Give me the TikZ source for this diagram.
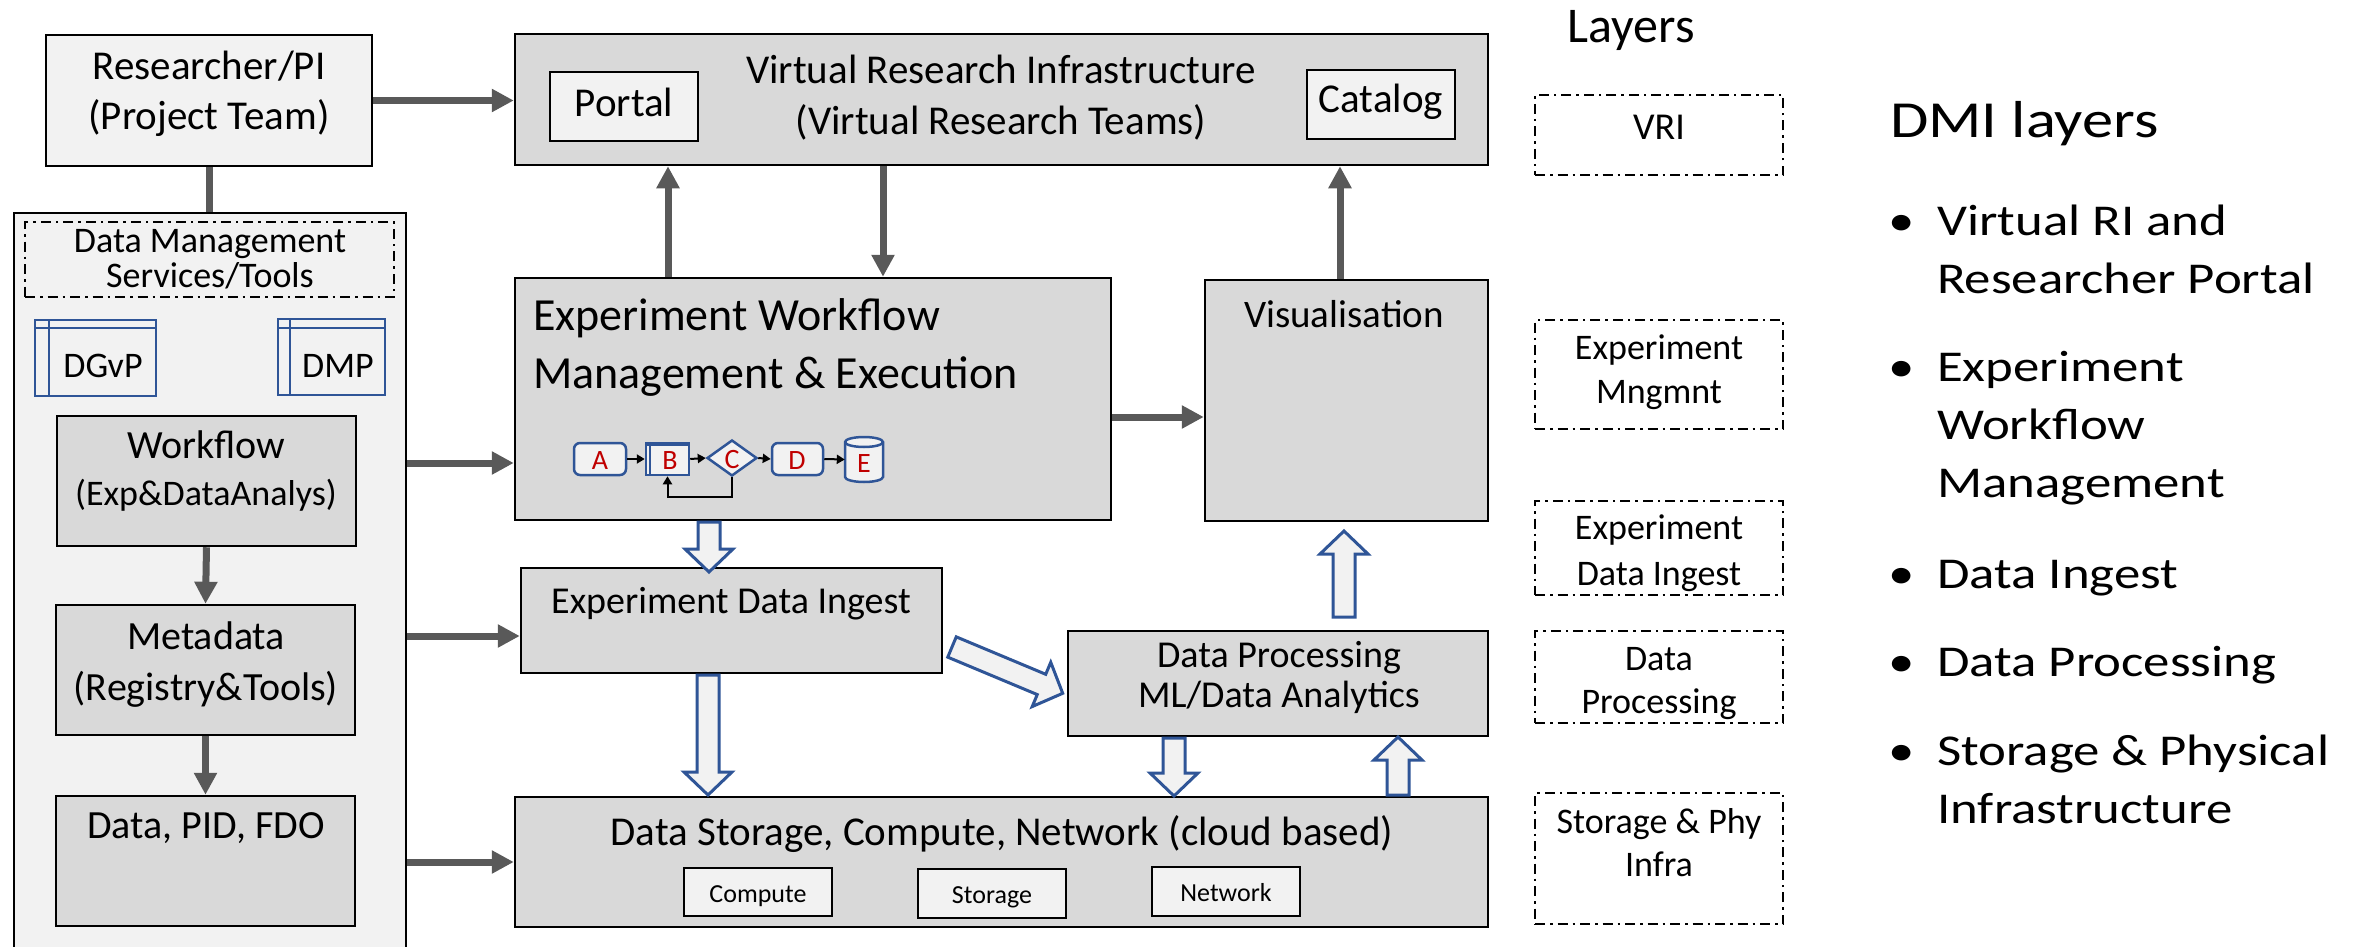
\documentclass[tikz,border=0pt]{standalone}
\usepackage{fontspec}
\setmainfont{Carlito}
\newfontfamily\widefont{Carlito}[FakeStretch=1.2]
\usetikzlibrary{arrows.meta,shapes.geometric,calc}
\definecolor{lightfill}{HTML}{F2F2F2}
\definecolor{midfill}{HTML}{D9D9D9}
\definecolor{darkarrow}{HTML}{595959}
\definecolor{wfblue}{HTML}{2F5597}
\definecolor{wfred}{HTML}{C00000}
\newcommand\fsz[1]{\fontsize{#1}{#1}\selectfont}
\newcommand\blockarr[4]{%
  \begin{scope}[shift={(#1,#2)}, rotate=#3]
    \draw[blockstyle] (0,-11) -- ({#4-23},-11) -- ({#4-23},-24) -- (#4,0) -- ({#4-23},24) -- ({#4-23},11) -- (0,11) -- cycle;
  \end{scope}}
\begin{document}
\begin{tikzpicture}[x=1pt,y=-1pt,
  box/.style={draw=black, line width=2.5pt, inner sep=0pt},
  gbox/.style={box, fill=midfill},
  lbox/.style={box, fill=lightfill},
  smallbox/.style={draw=black, line width=2pt, fill=lightfill, inner sep=0pt},
  layerbox/.style={draw=black, line width=2pt, dash pattern=on 10pt off 5pt on 2.5pt off 5pt, minimum width=248pt, inner sep=0pt},
  txt/.style={anchor=base, inner sep=0pt},
  ltxt/.style={anchor=base west, inner sep=0pt},
  darr/.style={draw=darkarrow, line width=7pt, -{Triangle[width=22pt,length=22pt]}},
  dline/.style={draw=darkarrow, line width=7pt},
  blockstyle/.style={draw=wfblue, fill=lightfill, line width=3pt, line join=miter},
  wfbox/.style={draw=wfblue, line width=2.5pt, fill=lightfill, inner sep=0pt},
  wfarr/.style={draw=black, line width=2pt, -{Triangle[width=9pt,length=8pt]}},
  wflet/.style={anchor=base, inner sep=0pt, text=wfred, font=\fsz{28}},
  iconbox/.style={draw=wfblue, line width=2pt, inner sep=0pt},
]
\useasboundingbox (0,0) rectangle (2359,947);
\fill[white] (0,0) rectangle (2359,947);
\clip (0,0) rectangle (2359,947);

% ---------------- left column ----------------
\node[lbox, minimum width=392pt, minimum height=760pt] (dm) at (210,593) {};
\node[lbox, minimum width=326pt, minimum height=131pt] (res) at (209,100.5) {};
\node[txt, font=\fsz{41}] (resA) at (209,80) {Researcher/PI};
\node[txt, font=\fsz{41}] (resB) at (209,130) {(Project Team)};
\draw[dline] (res.south) -- (dm.north -| res.south);

\node[draw=black, line width=2pt, dash pattern=on 10pt off 5pt on 2.5pt off 5pt, minimum width=369pt, minimum height=75pt, inner sep=0pt] (dmsvc) at (209.5,259.5) {};
\node[txt, font=\fsz{36}] (dmsvcA) at (210,252) {Data Management};
\node[txt, font=\fsz{36}] (dmsvcB) at (210,287) {Services/Tools};

\node[iconbox, minimum width=121pt, minimum height=76pt] (dgvp) at (95.5,358) {};
\draw[wfblue, line width=2pt] ($(dgvp.north west)+(0,9)$) -- ($(dgvp.north east)+(0,9)$);
\draw[wfblue, line width=2pt] ($(dgvp.north west)+(15,0)$) -- ($(dgvp.south west)+(15,0)$);
\node[txt, font=\fsz{36}] (dgvpT) at (103,377) {DGvP};
\node[iconbox, minimum width=107pt, minimum height=76pt] (dmp) at (331.5,357) {};
\draw[wfblue, line width=2pt] ($(dmp.north west)+(0,10)$) -- ($(dmp.north east)+(0,10)$);
\draw[wfblue, line width=2pt] ($(dmp.north west)+(13,0)$) -- ($(dmp.south west)+(13,0)$);
\node[txt, font=\fsz{36}] (dmpT) at (338,377) {DMP};

\node[gbox, minimum width=299pt, minimum height=130pt] (wf) at (206.5,481) {};
\node[txt, font=\fsz{40}] (wfA) at (206,458) {Workflow};
\node[txt, font=\fsz{36}] (wfB) at (206,505) {(Exp\&DataAnalys)};
\node[gbox, minimum width=299pt, minimum height=130pt] (meta) at (205.5,670) {};
\node[txt, font=\fsz{40}] (metaA) at (206,649) {Metadata};
\node[txt, font=\fsz{40}] (metaB) at (206,700) {(Registry\&Tools)};
\node[gbox, minimum width=299pt, minimum height=130pt] (data) at (205.5,861) {};
\node[txt, font=\fsz{40}] (dataA) at (206,838) {Data, PID, FDO};
\draw[darr] (wf.south) -- (meta.north);
\draw[darr] (meta.south) -- (data.north);

% ---------------- middle ----------------
\node[gbox, minimum width=973pt, minimum height=131pt] (vri) at (1001.5,99.5) {};
\node[txt, font=\fsz{41}] (vriA) at (1001,84) {Virtual Research Infrastructure};
\node[txt, font=\fsz{41}] (vriB) at (1001,135) {(Virtual Research Teams)};
\node[lbox, minimum width=148pt, minimum height=69pt] (portal) at (624,106.5) {};
\node[txt, font=\fsz{41}] (portalT) at (624,117) {Portal};
\node[lbox, minimum width=148pt, minimum height=69pt] (catalog) at (1381,104.5) {};
\node[txt, font=\fsz{41}] (catalogT) at (1381,113) {Catalog};

\node[gbox, minimum width=596pt, minimum height=242pt] (ewm) at (813,399) {};
\node[ltxt, font=\fsz{46}] (ewmA) at (533,330) {Experiment Workflow};
\node[ltxt, font=\fsz{46}] (ewmB) at (533,388) {Management \& Execution};

\node[gbox, minimum width=283pt, minimum height=241pt] (vis) at (1346.5,400.5) {};
\node[txt, font=\fsz{39}] (visT) at (1344,327) {Visualisation};

\node[gbox, minimum width=421pt, minimum height=105pt] (ingest) at (731.5,620.5) {};
\node[txt, font=\fsz{38}] (ingestT) at (731,613) {Experiment Data Ingest};

\node[gbox, minimum width=420pt, minimum height=105pt] (dp) at (1278,683.5) {};
\node[txt, font=\fsz{38}] (dpA) at (1279,667) {Data Processing};
\node[txt, font=\fsz{38}] (dpB) at (1279,707) {ML/Data Analytics};

\node[gbox, minimum width=973pt, minimum height=130pt] (stor) at (1001.5,862) {};
\node[txt, font=\fsz{41}] (storT) at (1002,845) {Data Storage, Compute, Network (cloud based)};
\node[smallbox, minimum width=148pt, minimum height=48pt] (comp) at (758,892) {};
\node[txt, font=\fsz{26}] (compT) at (758,902) {Compute};
\node[smallbox, minimum width=148pt, minimum height=49pt] (storbox) at (992,893.5) {};
\node[txt, font=\fsz{26}] (storboxT) at (992,903) {Storage};
\node[smallbox, minimum width=148pt, minimum height=49pt] (netw) at (1226,891.5) {};
\node[txt, font=\fsz{26}] (netwT) at (1226,901) {Network};

% mini workflow
\node[wfbox, rounded corners=6pt, minimum width=52pt, minimum height=32pt] (wa) at (600,459) {};
\node[wflet] (waT) at (600,469) {A};
\node[wfbox, minimum width=43pt, minimum height=32pt] (wb) at (667.5,459) {};
\draw[wfblue, line width=2pt] ($(wb.north west)+(5,0)$) -- ($(wb.south west)+(5,0)$);
\draw[wfblue, line width=2pt] ($(wb.north west)+(0,3)$) -- ($(wb.north east)+(0,3)$);
\node[wflet] (wbT) at (670,469) {B};
\node[wfbox, diamond, minimum width=50pt, minimum height=36pt] (wc) at (732,458) {};
\node[wflet] (wcT) at (732,468) {C};
\node[wfbox, rounded corners=6pt, minimum width=51pt, minimum height=32pt] (wd) at (797.5,459) {};
\node[wflet] (wdT) at (797,469) {D};
\node[inner sep=0pt, minimum width=38pt, minimum height=45pt] (we) at (864,459.5) {};
\draw[wfblue, line width=2.5pt, fill=lightfill]
  (845,442) -- (845,477) arc[start angle=180, end angle=360, x radius=19pt, y radius=5pt]
  -- (883,442) arc[start angle=0, end angle=180, x radius=19pt, y radius=5pt] -- cycle;
\draw[wfblue, line width=2.5pt] (845,442) arc[start angle=180, end angle=360, x radius=19pt, y radius=5pt];
\node[wflet] (weT) at (864,472) {E};
\draw[wfarr] (wa.east) -- (wb.west);
\draw[wfarr] (wb.east) -- (wc.west);
\draw[wfarr] (wc.east) -- (wd.west);
\draw[wfarr] (wd.east) -- (we.west);
\draw[wfarr] (wc.south) -- (wc.south |- 0,497) -- (wb.south |- 0,497) -- (wb.south);

% dark arrows
\draw[darr] (res.east) -- (vri.west |- res.east);
\draw[darr] (ewm.north -| 668,0) -- (vri.south -| 668,0);
\draw[darr] (vri.south -| 883,0) -- (ewm.north -| 883,0);
\draw[darr] (vis.north -| 1340,0) -- (vri.south -| 1340,0);
\draw[darr] (ewm.east |- 0,417) -- (vis.west |- 0,417);
\draw[darr] (dm.east |- 0,463) -- (ewm.west |- 0,463);
\draw[darr] (dm.east |- 0,636) -- (ingest.west |- 0,636);
\draw[darr] (dm.east |- 0,862) -- (stor.west |- 0,862);

% block arrows
\blockarr{709}{522}{-90}{50}
\blockarr{708}{675}{-90}{120}
\blockarr{952}{647}{-22.7}{120}
\blockarr{1344}{617}{90}{86}
\blockarr{1174}{738}{-90}{58}
\blockarr{1398}{795}{90}{58}

% ---------------- layers ----------------
\node[txt, font=\fsz{50}] (layT) at (1631,43) {Layers};
\node[layerbox, minimum height=80pt] (l1) at (1659,135) {};
\node[txt, font=\fsz{38}] (l1T) at (1659,140) {VRI};
\node[layerbox, minimum height=109pt] (l2) at (1659,374.5) {};
\node[txt, font=\fsz{36}] (l2A) at (1659,359) {Experiment};
\node[txt, font=\fsz{36}] (l2B) at (1659,403) {Mngmnt};
\node[layerbox, minimum height=94pt] (l3) at (1659,548) {};
\node[txt, font=\fsz{36}] (l3A) at (1659,539) {Experiment};
\node[txt, font=\fsz{36}] (l3B) at (1659,585) {Data Ingest};
\node[layerbox, minimum height=92pt] (l4) at (1659,677) {};
\node[txt, font=\fsz{36}] (l4A) at (1659,670) {Data};
\node[txt, font=\fsz{36}] (l4B) at (1659,713) {Processing};
\node[layerbox, minimum height=131pt] (l5) at (1659,858.5) {};
\node[txt, font=\fsz{36}] (l5A) at (1659,833) {Storage \& Phy};
\node[txt, font=\fsz{36}] (l5B) at (1659,876) {Infra};

% ---------------- DMI layers list ----------------
\node[ltxt, font=\widefont\fsz{52}] (dmiT) at (1890,138) {DMI layers};
\foreach \yy/\nm in {235/b1,381/b2,588/b3,676/b4,765/b5}
  \node[ltxt, font=\widefont\fsz{44}] (\nm) at (1888,\yy) {•};
\node[ltxt, font=\widefont\fsz{44}] (i1a) at (1937,235) {Virtual RI and};
\node[ltxt, font=\widefont\fsz{44}] (i1b) at (1937,293) {Researcher Portal};
\node[ltxt, font=\widefont\fsz{44}] (i2a) at (1937,381) {Experiment};
\node[ltxt, font=\widefont\fsz{44}] (i2b) at (1937,439) {Workflow};
\node[ltxt, font=\widefont\fsz{44}] (i2c) at (1937,497) {Management};
\node[ltxt, font=\widefont\fsz{44}] (i3a) at (1937,588) {Data Ingest};
\node[ltxt, font=\widefont\fsz{44}] (i4a) at (1937,676) {Data Processing};
\node[ltxt, font=\widefont\fsz{44}] (i5a) at (1937,765) {Storage \& Physical};
\node[ltxt, font=\widefont\fsz{44}] (i5b) at (1937,823) {Infrastructure};
\end{tikzpicture}
\end{document}
